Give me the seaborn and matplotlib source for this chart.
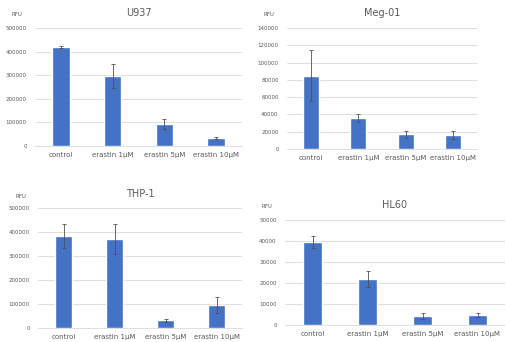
import matplotlib
matplotlib.use("Agg")
import matplotlib.pyplot as plt
import seaborn as sns
import pandas as pd

sns.set_theme(style="white")
plt.rcParams['font.family'] = ['DejaVu Sans']

categories = ["control", "erastin 1μM", "erastin 5μM", "erastin 10μM"]

u937_mean = [420000, 297000, 92000, 35000]
u937_err = [3000, 52000, 22000, 5000]

meg01_mean = [85000, 36000, 17000, 16000]
meg01_err = [29000, 5000, 4000, 4500]

thp1_mean = [382000, 370000, 32000, 97000]
thp1_err = [50000, 62000, 5000, 33000]

hl60_mean = [39500, 22000, 4200, 4800]
hl60_err = [3000, 3800, 1500, 1000]

panels = [
    ("U937", u937_mean, u937_err, 500000, 100000),
    ("Meg-01", meg01_mean, meg01_err, 140000, 20000),
    ("THP-1", thp1_mean, thp1_err, 500000, 100000),
    ("HL60", hl60_mean, hl60_err, 50000, 10000),
]

W, H = 505, 342
# axes boxes in pixels: left, top, right, bottom
boxes = [
    (35, 28, 242, 146),
    (287, 28, 477, 149),
    (38, 208, 242, 328),
    (285, 220, 505, 325),
]
title_y = [13, 13, 194, 205]

BLUE = "#4472C4"
TEXT = "#595959"
GRID = "#D9D9D9"

fig = plt.figure(figsize=(W / 100, H / 100), dpi=100)
fig.patch.set_facecolor("white")

for (name, mean, err, ymax, step), (l, t, r, b), ty in zip(panels, boxes, title_y):
    ax = fig.add_axes([l / W, 1 - b / H, (r - l) / W, (b - t) / H])
    df = pd.DataFrame({"cond": categories, "rfu": mean})
    sns.barplot(data=df, x="cond", y="rfu", color=BLUE, saturation=1,
                width=0.34, errorbar=None, ax=ax, zorder=2)
    ax.errorbar(range(len(categories)), mean, yerr=err, fmt="none",
                ecolor="#505050", elinewidth=0.6, capsize=1.5, capthick=0.6,
                zorder=3)
    ax.set_xlim(-0.5, len(categories) - 0.5)
    ax.set_ylim(0, ymax)
    ax.set_yticks(range(0, ymax + 1, step))
    ax.set_yticklabels([str(v) for v in range(0, ymax + 1, step)])
    ax.yaxis.grid(True, color=GRID, linewidth=0.6, zorder=0)
    ax.set_axisbelow(True)
    for s in ["top", "right", "left"]:
        ax.spines[s].set_visible(False)
    ax.spines["bottom"].set_color(GRID)
    ax.spines["bottom"].set_linewidth(0.6)
    ax.tick_params(axis="y", labelsize=4, colors=TEXT, length=0, pad=6)
    ax.tick_params(axis="x", labelsize=5, colors=TEXT, length=0, pad=4)
    ax.set_xlabel("")
    ax.set_ylabel("")
    fig.text(((l + r) / 2) / W, 1 - ty / H, name, ha="center", va="center",
             fontsize=7, color=TEXT)
    fig.text((l - 23) / W, 1 - (ty + 2) / H, "RFU", ha="left", va="center",
             fontsize=4, color=TEXT)

fig.savefig("out.png", dpi=100, facecolor="white")
